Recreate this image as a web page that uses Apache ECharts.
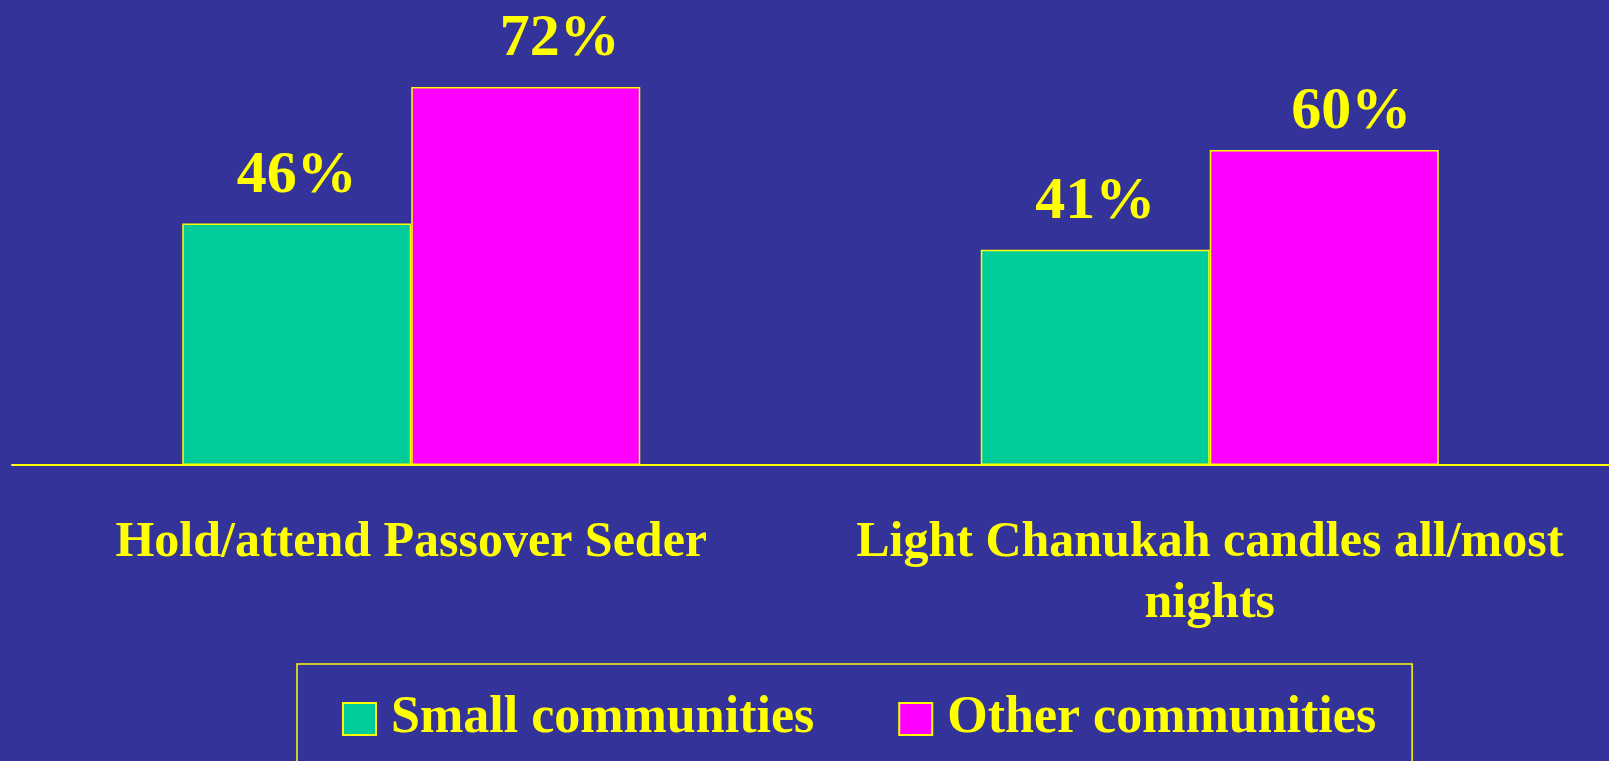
<!DOCTYPE html>
<html>
<head>
<meta charset="utf-8">
<script src="https://cdn.jsdelivr.net/npm/echarts@6/dist/echarts.min.js"></script>
<style>
    html, body { margin: 0; padding: 0; background: #333399; }
    #chart { width: 1609px; height: 761px; }
</style>
</head>
<body>
<div id="chart"></div>
<script>
const categories = ['Hold/attend Passover Seder', 'Light Chanukah candles all/most\nnights'];
const seriesNames = ['Small communities', 'Other communities'];
const smallValues = [46, 41];
const otherValues = [72, 60];

// the pink labels sit a bit off-centre in the original
const otherLabelOffsets = [[34, 0], [27, 10]];

const serif = '"Liberation Serif", "Times New Roman", serif';
const yellow = '#ffff00';

const chartDom = document.getElementById('chart');
const myChart = echarts.init(chartDom);

const labelStyle = {
    show: true,
    position: 'top',
    distance: 17,
    color: yellow,
    fontFamily: serif,
    fontWeight: 'bold',
    fontSize: 60,
    formatter: p => p.value + '%'
};

let option = {
    backgroundColor: '#333399',
    animation: false,
    grid: {
        left: 12,
        top: 0,
        width: 1606,
        height: 465,
        containLabel: false
    },
    legend: {
        data: seriesNames,
        left: 297,
        top: 664,
        orient: 'horizontal',
        icon: 'rect',
        borderColor: yellow,
        borderWidth: 1.5,
        padding: [29, 36, 80, 45],
        itemWidth: 33,
        itemHeight: 32,
        itemGap: 84,
        textStyle: {
            color: yellow,
            fontFamily: serif,
            fontWeight: 'bold',
            fontSize: 52,
            padding: [0, 0, 0, 10]
        }
    },
    xAxis: {
        type: 'category',
        data: categories,
        axisLine: { show: true, lineStyle: { color: yellow, width: 2 } },
        axisTick: { show: false },
        axisLabel: {
            interval: 0,
            margin: 48,
            color: yellow,
            fontFamily: serif,
            fontWeight: 'bold',
            fontSize: 50,
            lineHeight: 61,
            align: 'center'
        }
    },
    yAxis: {
        type: 'value',
        min: 0,
        max: 88.57,
        show: false,
        splitLine: { show: false }
    },
    series: [
        {
            name: seriesNames[0],
            type: 'bar',
            data: smallValues,
            barWidth: 229,
            barGap: '0%',
            itemStyle: { color: '#00cc99', borderColor: yellow, borderWidth: 1.5 },
            label: labelStyle
        },
        {
            name: seriesNames[1],
            type: 'bar',
            data: otherValues.map((v, i) => ({
                value: v,
                label: { offset: otherLabelOffsets[i] }
            })),
            barWidth: 229,
            barGap: '0%',
            itemStyle: { color: '#ff00ff', borderColor: yellow, borderWidth: 1.5 },
            label: labelStyle
        }
    ]
};

option && myChart.setOption(option);
</script>
</body>
</html>
